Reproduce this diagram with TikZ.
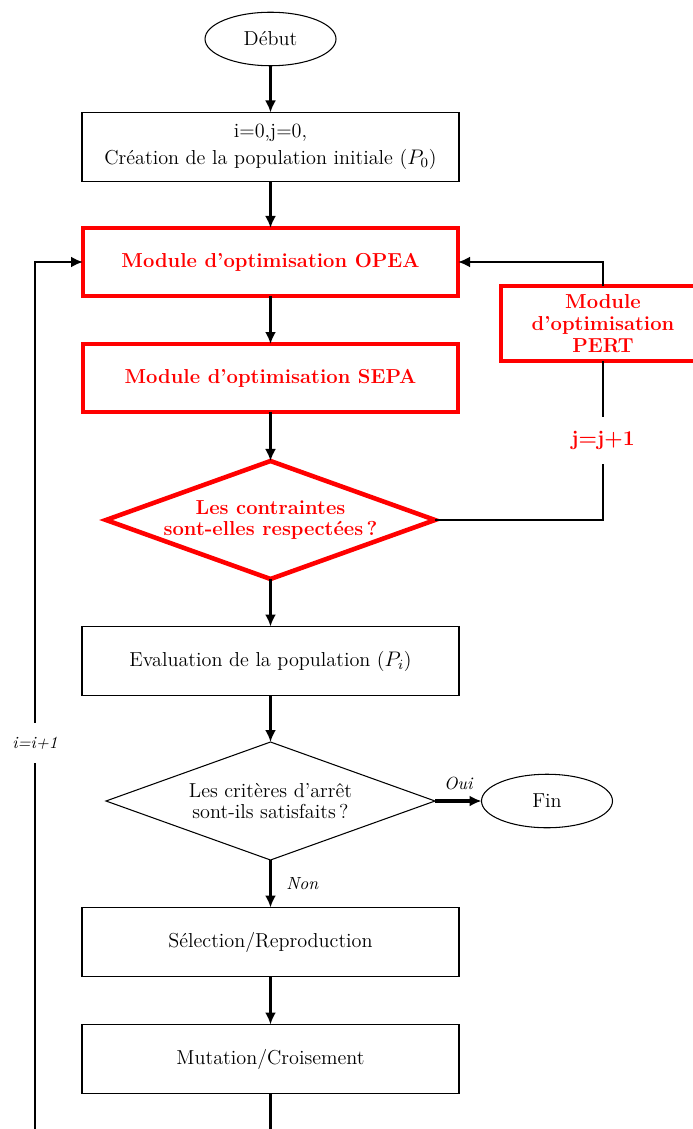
\documentclass[tikz,border=0pt]{standalone}
\usetikzlibrary{shapes.geometric, arrows.meta}

\newcommand{\flowfont}{\fontsize{11.5}{12.4}\selectfont}

\begin{document}
\begin{tikzpicture}[
        outer sep = 0mm, font = \flowfont,
        box/.style = {
          rectangle, draw = black, semithick, align = center,
          minimum height = 1.38cm, minimum width = 7.54cm,
        },
        redbox/.style = {
          rectangle, draw = red, line width = 2.6pt, align = center,
          text = red, font = \flowfont\bfseries,
          minimum height = 1.36cm, minimum width = 7.5cm,
        },
        term/.style = {
          ellipse, draw = black, semithick, inner sep = 0mm,
          minimum height = 1.07cm, minimum width = 2.62cm,
        },
        test/.style = {
          diamond, draw = black, semithick, align = center, aspect = 2.8,
          inner sep = 0mm, minimum height = 2.36cm, minimum width = 6.58cm,
        },
        redtest/.style = {
          test, draw = red, line width = 2.6pt, text = red, font = \flowfont\bfseries,
        },
        flow/.style = {line width = 1.4pt, -{Latex[length=2.4mm, width=2.2mm]}},
        line/.style = {line width = 1.4pt},
        gap/.style = {fill = white, inner xsep = 1pt, inner ysep = 8pt},
        lab/.style = {font = \fontsize{10}{12}\selectfont\itshape},
      ]

      \useasboundingbox (0,0) rectangle (13.86,-22.58);

      \node[term] (debut) at (5.41,-0.78) {D\'ebut};
      \node[box] (init) at (5.41,-2.94)
        {i=0,j=0,\\[3pt] Cr\'eation de la population initiale ($P_0$)};
      \node[redbox] (opea) at (5.41,-5.24) {Module d'optimisation OPEA};
      \node[redbox] (sepa) at (5.41,-7.56) {Module d'optimisation SEPA};
      \node[redtest] (cont) at (5.41,-10.4)
        {Les contraintes\\ sont-elles respect\'ees\,?};
      \node[box] (eval) at (5.41,-13.22) {Evaluation de la population ($P_i$)};
      \node[test] (arret) at (5.41,-16.02)
        {Les crit\`eres d'arr\^et\\ sont-ils satisfaits\,?};
      \node[term] (fin) at (10.94,-16.02) {Fin};
      \node[box] (selec) at (5.41,-18.84) {S\'election/Reproduction};
      \node[box] (mutat) at (5.41,-21.18) {Mutation/Croisement};
      \node[redbox, minimum width = 4.08cm, minimum height = 1.5cm] (pert)
        at (12.06,-6.47) {Module\\ d'optimisation\\ PERT};

      \coordinate (lbot) at (0.7,-22.58);

      \draw[flow] (debut) to (init);
      \draw[flow] (init) to (opea);
      \draw[flow] (opea) to (sepa);
      \draw[flow] (sepa) to (cont);
      \draw[flow] (cont) to (eval);
      \draw[flow] (eval) to (arret);
      \draw[flow] (arret) to node[right, xshift = 2mm, lab] {Non} (selec);
      \draw[flow, line width = 2pt] (arret) to node[above, yshift = 1mm, lab] {Oui} (fin);
      \draw[flow] (selec) to (mutat);
      \draw[line] (mutat) to (mutat |- lbot);

      % boucle j
      \draw[line] (cont.east) to (cont.east -| pert.south)
        to node[gap, text = red, font = \fontsize{12}{14}\selectfont\bfseries] (jinc) {j=j+1}
        (pert.south);
      \draw[flow] (pert.north) |- (opea.east);

      % boucle i
      \draw[flow] (lbot)
        to node[pos = .445, gap, font = \fontsize{9.7}{12}\selectfont\itshape] (iinc) {i=i+1}
        (lbot |- opea.west)
        to (opea.west);
    \end{tikzpicture}
\end{document}
